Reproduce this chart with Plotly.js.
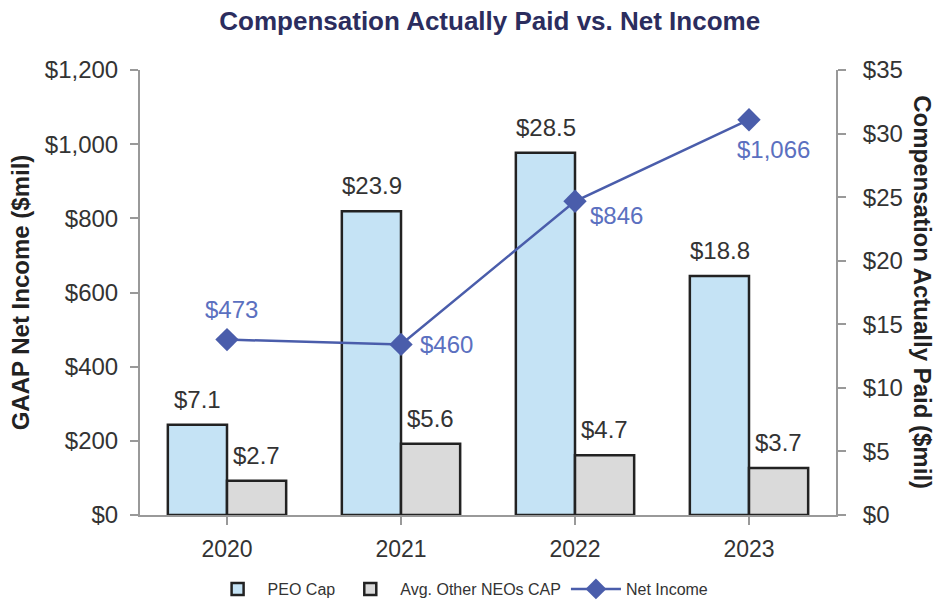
<!DOCTYPE html>
<html><head><meta charset="utf-8">
<script src="https://cdn.plot.ly/plotly-3.0.1.min.js"></script>
<style>html,body{margin:0;padding:0;background:#fff;}#chart{width:940px;height:606px;}</style>
</head><body><div id="chart"></div>
<script>
const years = ["2020", "2021", "2022", "2023"];
const peoCap = [7.1, 23.9, 28.5, 18.8];
const otherNeoCap = [2.7, 5.6, 4.7, 3.7];
const netIncome = [473, 460, 846, 1066];
const netIncomeLabels = ["$473", "$460", "$846", "$1,066"];

// label offsets (style only, in pixels)
const niLabelShiftX = [4, 45, 41, 24];
const niLabelShiftY = [30, 0, -14, -30];

const fnt = "Liberation Sans, Arial, sans-serif";
const traces = [
  {type:"bar", name:"PEO Cap", x:years, y:peoCap, yaxis:"y",
   marker:{color:"#c5e3f5", line:{color:"#222", width:2.5}}, hoverinfo:"skip"},
  {type:"bar", name:"Avg. Other NEOs CAP", x:years, y:otherNeoCap, yaxis:"y",
   marker:{color:"#dadada", line:{color:"#222", width:2.5}}, hoverinfo:"skip"},
  {type:"scatter", mode:"lines+markers", name:"Net Income", x:years, y:netIncome, yaxis:"y2",
   line:{color:"#4a5dab", width:2.5}, marker:{symbol:"diamond", size:18, color:"#4a5dab"}, cliponaxis:false}
];

const annotations = [];
const barHalfOffset = 29.5;
years.forEach((yr, i) => {
  annotations.push({x:i, y:peoCap[i], xref:"x", yref:"y", xshift:-barHalfOffset, yshift:10,
    text:"$"+peoCap[i].toFixed(1), showarrow:false, xanchor:"center", yanchor:"bottom",
    font:{family:fnt, size:24, color:"#333"}});
  annotations.push({x:i, y:otherNeoCap[i], xref:"x", yref:"y", xshift:barHalfOffset, yshift:10,
    text:"$"+otherNeoCap[i].toFixed(1), showarrow:false, xanchor:"center", yanchor:"bottom",
    font:{family:fnt, size:24, color:"#333"}});
  annotations.push({x:i, y:netIncome[i], xref:"x", yref:"y2", xshift:niLabelShiftX[i], yshift:niLabelShiftY[i],
    text:netIncomeLabels[i], showarrow:false, xanchor:"center", yanchor:"middle",
    font:{family:fnt, size:24, color:"#5b70c0"}});
});
annotations.push({text:"<b>Compensation Actually Paid ($mil)</b>", xref:"paper", yref:"paper", x:1.124, y:0.5,
  xanchor:"center", yanchor:"middle", textangle:90, showarrow:false,
  font:{family:fnt, size:24, color:"#222"}});

const layout = {
  width:940, height:606,
  margin:{l:140, r:104, t:70, b:91},
  paper_bgcolor:"#fff", plot_bgcolor:"#fff",
  font:{family:fnt, color:"#333"},
  title:{text:"<b>Compensation Actually Paid vs. Net Income</b>", x:0.521, xanchor:"center", y:0.965, yanchor:"middle",
         font:{family:fnt, size:26, color:"#2b2d5e"}},
  barmode:"group", bargap:0.32, bargroupgap:0,
  showlegend:true,
  legend:{orientation:"h", x:0.49, xanchor:"center", xref:"container", y:0, yanchor:"bottom", yref:"container",
          font:{family:fnt, size:16, color:"#333"}, traceorder:"normal", itemwidth:50},
  xaxis:{type:"category", range:[-0.5,3.5], showline:true, linecolor:"#999", linewidth:2,
         ticks:"outside", ticklen:8, tickcolor:"#999", tickwidth:2, ticklabelstandoff:4,
         tickfont:{family:fnt, size:23, color:"#333"}, showgrid:false, zeroline:false},
  yaxis:{side:"right", range:[0,35], dtick:5, tickprefix:"$", showline:true, linecolor:"#999", linewidth:2,
         ticks:"outside", ticklen:8, tickcolor:"#999", tickwidth:2, ticklabelstandoff:12, showgrid:false, zeroline:false,
         tickfont:{family:fnt, size:24, color:"#333"}},
  yaxis2:{overlaying:"y", side:"left", range:[0,1200], dtick:200, tickprefix:"$", tickformat:",d",
          showline:true, linecolor:"#999", linewidth:2, ticks:"outside", ticklen:8, tickcolor:"#999", tickwidth:2,
          ticklabelstandoff:7, showgrid:false, zeroline:false, tickfont:{family:fnt, size:24, color:"#333"},
          title:{text:"<b>GAAP Net Income ($mil)</b>", font:{family:fnt, size:24, color:"#222"}, standoff:8}},
  annotations:annotations
};
Plotly.newPlot("chart", traces, layout, {displayModeBar:false, staticPlot:true});
</script></body></html>
